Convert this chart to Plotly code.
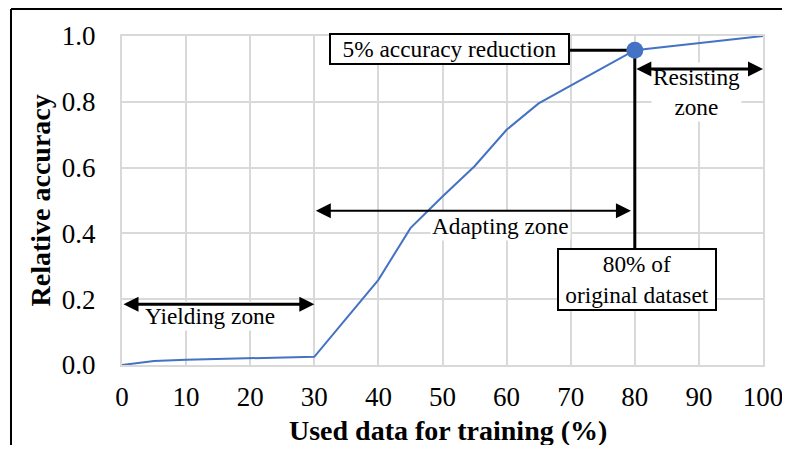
import plotly.graph_objects as go

# share of the training set used (%) and the accuracy relative to the full set
used_data = [0, 5, 10, 15, 20, 25, 30, 35, 40, 45, 50, 55, 60, 65, 70, 75, 80, 85, 90, 95, 100]
relative_accuracy = [
    0.0, 0.012, 0.016, 0.018, 0.020, 0.022, 0.025, 0.142, 0.259, 0.416, 0.512,
    0.604, 0.715, 0.795, 0.848, 0.903, 0.957, 0.968, 0.978, 0.989, 1.0,
]

# zone boundaries (% of data) and the highlighted point
yielding_zone = (0, 30)
adapting_zone = (30, 80)
resisting_zone = (80, 100)
marked_share = 80

x_ticks = [0, 10, 20, 30, 40, 50, 60, 70, 80, 90, 100]
y_ticks = [0.0, 0.2, 0.4, 0.6, 0.8, 1.0]

# the page body keeps its default 8px margin; size the figure so the page does not overflow
PAGE_OFFSET = 8
WIDTH, HEIGHT = 790 - 2 * PAGE_OFFSET, 453 - 2 * PAGE_OFFSET
MARGIN = {"l": 114, "r": 19, "t": 28, "b": 80}
FONT = "Liberation Serif, Times New Roman, serif"
BLUE = "#4472C4"
GRID = "#d9d9d9"
LABEL_SIZE = 23.3
TITLE_SIZE = 28
TICK_SIZE = 27

marked_accuracy = relative_accuracy[used_data.index(marked_share)]


def paper_x(page_px):
    return (page_px - PAGE_OFFSET - MARGIN["l"]) / (WIDTH - MARGIN["l"] - MARGIN["r"])


def paper_y(page_py):
    return (HEIGHT - MARGIN["b"] - (page_py - PAGE_OFFSET)) / (HEIGHT - MARGIN["t"] - MARGIN["b"])


fig = go.Figure()
fig.add_trace(
    go.Scatter(
        x=used_data,
        y=relative_accuracy,
        mode="lines",
        line={"color": BLUE, "width": 2},
        showlegend=False,
    )
)
fig.add_trace(
    go.Scatter(
        x=[marked_share],
        y=[marked_accuracy],
        mode="markers",
        marker={"color": BLUE, "size": 17},
        showlegend=False,
        cliponaxis=False,
    )
)

# connectors from the callout boxes to the marked point
fig.add_shape(
    type="line", x0=51, x1=marked_share, y0=marked_accuracy, y1=marked_accuracy,
    line={"color": "black", "width": 3}, layer="between",
)
fig.add_shape(
    type="line", x0=marked_share, x1=marked_share, y0=0.26, y1=marked_accuracy,
    line={"color": "black", "width": 3}, layer="between",
)

# outer frame (cropped on the right and bottom)
frame = {"color": "black", "width": 2}
fig.add_shape(type="line", xref="paper", yref="paper",
              x0=paper_x(11), x1=paper_x(11), y0=paper_y(470), y1=paper_y(9), line=frame)
fig.add_shape(type="line", xref="paper", yref="paper",
              x0=paper_x(11), x1=paper_x(800), y0=paper_y(9), y1=paper_y(9), line=frame)


def label(text, x, y, size=LABEL_SIZE, **kwargs):
    fig.add_annotation(
        x=x, y=y, text=text, showarrow=False,
        font={"family": FONT, "size": size, "color": "black"},
        bgcolor="white", **kwargs,
    )


def span_arrow(start, end, y, width, size):
    fig.add_annotation(
        x=end, y=y, ax=start, ay=y, axref="x", ayref="y", text="",
        showarrow=True, arrowside="end+start", arrowhead=2,
        arrowwidth=width, arrowsize=size, arrowcolor="black",
    )


label("5% accuracy reduction", 51.1, 0.960, width=235, height=26,
      bordercolor="black", borderwidth=2, borderpad=1)
label("80% of<br>original dataset", 80.3, 0.26, width=154, height=57,
      bordercolor="black", borderwidth=2, borderpad=1)

label("Resisting<br>zone", 89.6, 0.830)
span_arrow(resisting_zone[0], resisting_zone[1], 0.90, 3, 1.0)

label("Adapting zone", 59.1, 0.422)
span_arrow(adapting_zone[0], adapting_zone[1] - 0.6, 0.469, 2, 1.5)

label("Yielding zone", 13.8, 0.149)
span_arrow(yielding_zone[0], yielding_zone[1], 0.185, 3, 1.0)

# axis titles, placed where the reference has them
title_font = {"family": FONT, "size": TITLE_SIZE, "color": "black"}
fig.add_annotation(
    xref="paper", yref="paper", x=paper_x(447.5), y=paper_y(430),
    xanchor="center", yanchor="middle",
    text="<b>Used data for training (%)</b>", showarrow=False, font=title_font,
)
fig.add_annotation(
    xref="paper", yref="paper", x=paper_x(40), y=paper_y(200.5), textangle=-90,
    xanchor="center", yanchor="middle",
    text="<b>Relative accuracy</b>", showarrow=False, font=title_font,
)

axis_style = {
    "showgrid": True, "gridcolor": GRID, "gridwidth": 2,
    "showline": True, "linecolor": GRID, "linewidth": 2, "mirror": True,
    "zeroline": False, "ticks": "", "automargin": False, "ticklabeloverflow": "allow",
    "tickfont": {"family": FONT, "size": TICK_SIZE, "color": "black"},
}

fig.update_xaxes(range=[0, 100], tickvals=x_ticks, ticklabelstandoff=7, **axis_style)
fig.update_yaxes(range=[0, 1], tickvals=y_ticks, tickformat=".1f", ticklabelstandoff=19,
                 **axis_style)

fig.update_layout(
    width=WIDTH, height=HEIGHT, margin=MARGIN,
    paper_bgcolor="white", plot_bgcolor="white",
)

fig.write_html("out.html")
